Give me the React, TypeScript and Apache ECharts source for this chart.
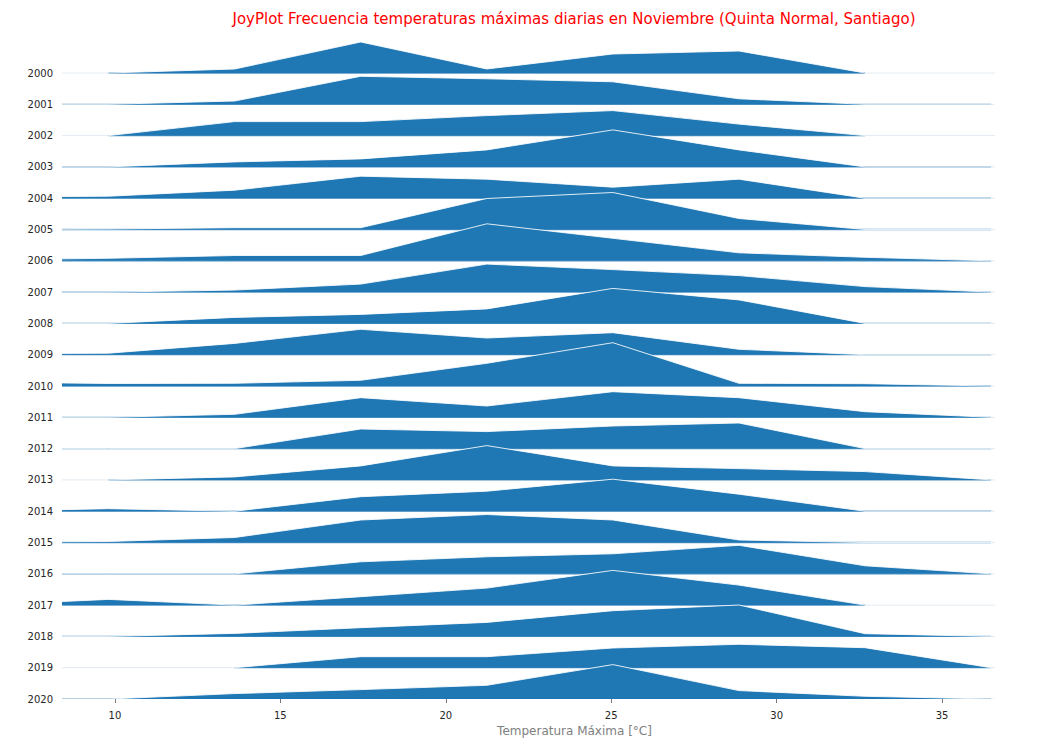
import React, { useEffect, useRef } from "react";
import * as echarts from "echarts";

// Bin centres of the histogram (°C)
const binCenters = [6.0, 9.81, 13.62, 17.43, 21.24, 25.05, 28.86, 32.67, 36.48];

// Relative frequency per bin (null = no data)
const f2000 = [null, 0, 4, 31, 4, 19, 22, 0, null];
const f2001 = [0, 0, 3.3, 28, 25.5, 22.5, 5.5, 0, 0];
const f2002 = [null, 0, 14, 14, 20, 25, 11.5, 0, null];
const f2003 = [0, 0, 5, 8, 17, 37, 17, 0, 0];
const f2004 = [1, 2, 8, 22, 19, 11, 19, 0, 0];
const f2005 = [0, 0.5, 1.8, 1.8, 31, 37, 11, 0, 0];
const f2006 = [1, 2.5, 5.3, 5.3, 37, 22.5, 8, 3.5, 0];
const f2007 = [0, 0, 2, 8, 28, 22.5, 16.5, 5.5, 0];
const f2008 = [0, 0, 6, 9, 14.5, 35, 23.5, 0, 0];
const f2009 = [1, 1.5, 11.3, 25.4, 16.7, 22, 5.4, 0, 0];
const f2010 = [4, 2.5, 2.7, 5.7, 22.7, 43.3, 2.7, 2.3, 0];
const f2011 = [0, 0, 3, 19.6, 11.3, 25.6, 19.6, 5.6, 0];
const f2012 = [0, 0, 0, 19.6, 17, 22.6, 25.6, 0, 0];
const f2013 = [null, 0, 3, 14, 34.3, 14, 11.3, 8.3, 0];
const f2014 = [0, 2.5, 0, 14.5, 20, 32, 17, 0, 0];
const f2015 = [0.5, 1, 5, 22.5, 28, 22.5, 2.5, 0, 0];
const f2016 = [0, 0, 0, 12, 17, 20, 28.5, 8, 0];
const f2017 = [0, 5.7, 0, 8.4, 17, 34.7, 20, 0, null];
const f2018 = [0, 0, 3, 8.7, 14, 25.7, 31.4, 2.7, 0];
const f2019 = [null, null, 0, 11, 11, 19.7, 23.4, 20, 0];
const f2020 = [0, 0, 5.4, 9.4, 13.7, 34.4, 8.4, 2.7, 0];

const years = [
  "2000", "2001", "2002", "2003", "2004", "2005", "2006", "2007", "2008", "2009", "2010",
  "2011", "2012", "2013", "2014", "2015", "2016", "2017", "2018", "2019", "2020",
];
const rows: (number | null)[][] = [
  f2000, f2001, f2002, f2003, f2004, f2005, f2006, f2007, f2008, f2009, f2010,
  f2011, f2012, f2013, f2014, f2015, f2016, f2017, f2018, f2019, f2020,
];

const xTicks = [10, 15, 20, 25, 30, 35];
const X_MIN = 8.4;
const X_MAX = 36.6;
const ROW_STEP = 31.3;
const FILL = "#1f77b4";
const FONT = "DejaVu Sans";

export default function App() {
  const ref = useRef<HTMLDivElement>(null);

  useEffect(() => {
    if (!ref.current) return;
    const chart = echarts.init(ref.current, undefined, { renderer: "svg" });
    const n = rows.length;
    const baseOf = (i: number) => (n - 1 - i) * ROW_STEP;

    const renderItem = (params: any, api: any) => {
      const i = params.dataIndex;
      const base = baseOf(i);
      const vals = rows[i];
      const children: any[] = [];
      const l = api.coord([X_MIN, base]);
      const r = api.coord([X_MAX, base]);
      children.push({
        type: "line",
        shape: { x1: l[0], y1: l[1], x2: r[0], y2: r[1] },
        style: { stroke: "#e4ebf2", lineWidth: 1 },
      });
      const segments: number[][][] = [];
      let cur: number[][] = [];
      vals.forEach((v, k) => {
        if (v === null) {
          if (cur.length) segments.push(cur);
          cur = [];
        } else {
          cur.push([binCenters[k], v]);
        }
      });
      if (cur.length) segments.push(cur);
      segments.forEach((seg) => {
        const top = seg.map((p) => api.coord([p[0], base + p[1]]));
        const bottom = seg
          .slice()
          .reverse()
          .map((p) => api.coord([p[0], base]));
        children.push({
          type: "polygon",
          shape: { points: top.concat(bottom) },
          style: { fill: FILL, stroke: null },
        });
        children.push({
          type: "line",
          shape: { x1: bottom[bottom.length - 1][0], y1: bottom[0][1], x2: bottom[0][0], y2: bottom[0][1] },
          style: { stroke: FILL, lineWidth: 1.3, opacity: 0.75 },
        });
        children.push({
          type: "polyline",
          shape: { points: top },
          style: { stroke: "#ffffff", lineWidth: 1, fill: null, opacity: 0.85 },
        });
      });
      return { type: "group", children };
    };

    chart.setOption({
      animation: false,
      backgroundColor: "#ffffff",
      title: {
        text: "JoyPlot Frecuencia temperaturas máximas diarias en Noviembre (Quinta Normal, Santiago)",
        left: 569,
        top: 6,
        textAlign: "center",
        textStyle: { color: "#ff0000", fontSize: 15, fontWeight: "normal", fontFamily: FONT },
      },
      grid: { left: 62, right: 52, top: 32, bottom: 48 },
      xAxis: {
        type: "value",
        min: X_MIN,
        max: X_MAX,
        offset: 4,
        name: "Temperatura Máxima [°C]",
        nameLocation: "middle",
        nameGap: 22,
        nameTextStyle: { color: "#808080", fontSize: 12, fontFamily: FONT, padding: [0, 0, 0, 92] },
        axisLine: { show: false },
        axisTick: { show: true, length: 4, customValues: xTicks, lineStyle: { color: "#555", width: 0.8 } },
        axisLabel: { customValues: xTicks, color: "#262626", fontSize: 10, fontFamily: FONT, margin: 7 },
        splitLine: { show: false },
      },
      yAxis: {
        type: "value",
        min: 0,
        max: 667,
        axisLine: { show: false },
        axisTick: { show: false },
        splitLine: { show: false },
        axisLabel: {
          customValues: years.map((_, i) => baseOf(i)),
          formatter: (v: number) => years[Math.round(n - 1 - v / ROW_STEP)] ?? "",
          color: "#262626",
          fontSize: 10,
          fontFamily: FONT,
          margin: 9,
        },
      },
      series: [
        {
          type: "custom",
          clip: true,
          renderItem,
          data: years.map((_, i) => [X_MIN, baseOf(i)]),
        },
      ],
    });
    return () => chart.dispose();
  }, []);

  return (
    <div
      ref={ref}
      style={{ position: "fixed", left: 0, top: 0, width: 1047, height: 747, background: "#fff" }}
    />
  );
}
